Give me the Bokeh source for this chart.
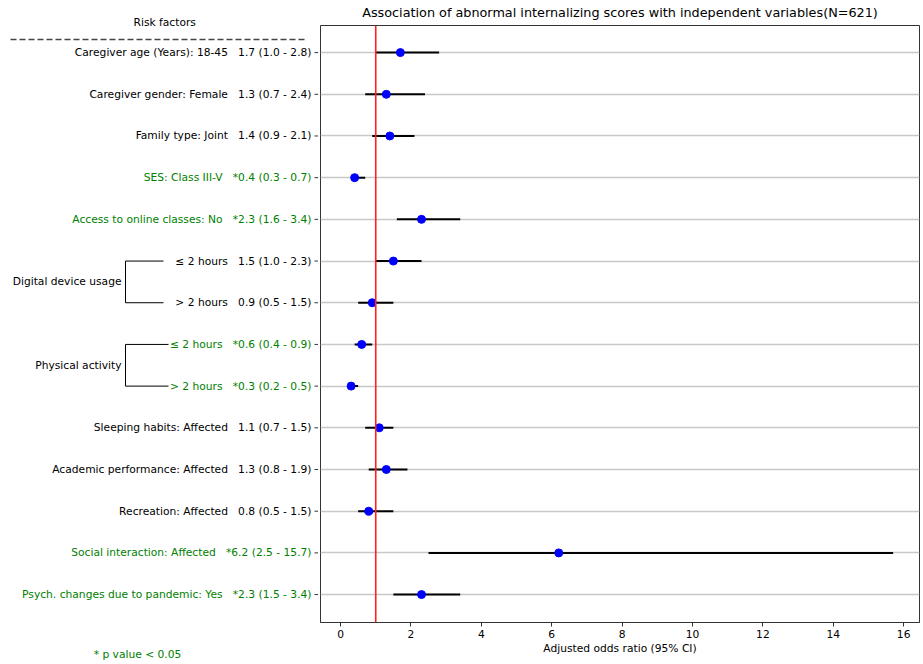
from bokeh.plotting import figure
from bokeh.layouts import row
from bokeh.models import ColumnDataSource, Span, FixedTicker, Range1d, LinearAxis
from bokeh.core.properties import value
from bokeh.embed import file_html
from bokeh.resources import INLINE

# ---- data ----
labels = ["Caregiver age (Years): 18-45", "Caregiver gender: Female", "Family type: Joint",
          "SES: Class III-V", "Access to online classes: No",
          "\u2264 2 hours", "> 2 hours", "\u2264 2 hours", "> 2 hours",
          "Sleeping habits: Affected", "Academic performance: Affected", "Recreation: Affected",
          "Social interaction: Affected", "Psych. changes due to pandemic: Yes"]
odds = [1.7, 1.3, 1.4, 0.4, 2.3, 1.5, 0.9, 0.6, 0.3, 1.1, 1.3, 0.8, 6.2, 2.3]
ci_low = [1.0, 0.7, 0.9, 0.3, 1.6, 1.0, 0.5, 0.4, 0.2, 0.7, 0.8, 0.5, 2.5, 1.5]
ci_high = [2.8, 2.4, 2.1, 0.7, 3.4, 2.3, 1.5, 0.9, 0.5, 1.5, 1.9, 1.5, 15.7, 3.4]
significant = [False, False, False, True, True, False, False, True, True,
               False, False, False, True, True]
groups = [("Digital device usage", 5, 6), ("Physical activity", 7, 8)]
x_ticks = [0, 2, 4, 6, 8, 10, 12, 14, 16]
ref_odds = 1.0
footnote = "* p value < 0.05"

FONT = "DejaVu Sans"
FS = "10.7px"
GREEN = "#008000"
n = len(labels)
ys = [n - 1 - i for i in range(n)]
texts, colors = [], []
for lab, o, lo, hi, s in zip(labels, odds, ci_low, ci_high, significant):
    star = "*" if s else ""
    texts.append(f"{lab}\u00a0\u00a0\u00a0{star}{o:.1f} ({lo:.1f} - {hi:.1f})")
    colors.append(GREEN if s else "black")

src = ColumnDataSource(dict(y=ys, odds=odds, lo=ci_low, hi=ci_high, text=texts, color=colors))

# ---- layout constants (pixels) ----
H = 664
TOP, BOTTOM = 25, 42
LEFT_W = 318
MAIN_W = 605
x0, x1 = -0.57, 16.45
y0, y1 = -0.67, n - 1 + 0.65
ppu = (H - TOP - BOTTOM) / (y1 - y0)          # pixels per row unit
yr = Range1d(y0, y1)

# ---- main chart ----
p = figure(width=MAIN_W, height=H, output_backend="svg", toolbar_location=None,
           x_range=Range1d(x0, x1), y_range=yr,
           min_border_left=2, min_border_right=4, min_border_top=TOP, min_border_bottom=BOTTOM)
p.yaxis.visible = False
p.title.text = "Association of abnormal internalizing scores with independent variables(N=621)"
p.title.text_font = FONT
p.title.text_font_size = "12.8px"
p.title.text_font_style = "normal"
p.title.text_color = "black"
p.title.align = "center"
p.title.vertical_align = "top"
p.title.standoff = 8

p.outline_line_color = "#333333"
p.outline_line_width = 1
p.xgrid.visible = False
p.ygrid.ticker = FixedTicker(ticks=ys)
p.ygrid.grid_line_color = "#c8c8c8"
p.ygrid.grid_line_width = 1.5

ax = p.xaxis[0]
ax.ticker = FixedTicker(ticks=x_ticks)
ax.axis_label = "Adjusted odds ratio (95% CI)"
ax.axis_line_color = "#333333"
ax.major_tick_line_color = "#333333"
ax.major_tick_in = 0
ax.major_tick_out = 4
ax.minor_tick_line_color = None
ax.major_label_text_font = FONT
ax.major_label_text_font_size = FS
ax.major_label_text_color = "black"
ax.axis_label_text_font = FONT
ax.axis_label_text_font_size = FS
ax.axis_label_text_font_style = "normal"
ax.axis_label_text_color = "black"
ax.major_label_standoff = 3
ax.axis_label_standoff = 1

p.add_layout(Span(location=ref_odds, dimension="height", line_color="#ff2020", line_width=1.6))
p.segment(x0="lo", x1="hi", y0="y", y1="y", source=src, line_color="black", line_width=2)
p.scatter(x="odds", y="y", source=src, size=8, fill_color="blue", line_color="blue")

# ---- left label panel (frame aligned with the main chart's frame) ----
L = figure(width=LEFT_W, height=H, output_backend="svg", toolbar_location=None,
           x_range=Range1d(0, LEFT_W), y_range=yr,
           x_axis_type=None, y_axis_type=None,
           min_border_left=0, min_border_right=0, min_border_top=TOP, min_border_bottom=BOTTOM)
L.outline_line_color = None
L.grid.visible = False
L.title.text = "Risk factors"
L.title.text_font = FONT
L.title.text_font_size = FS
L.title.text_font_style = "normal"
L.title.text_color = "black"
L.title.align = "left"
L.title.offset = 133
L.title.standoff = -6

foot_x = 137
L.add_layout(LinearAxis(ticker=FixedTicker(ticks=[foot_x]),
                        major_label_overrides={foot_x: footnote},
                        major_tick_in=0, major_tick_out=0, minor_tick_line_color=None,
                        axis_line_color=None, major_label_standoff=25,
                        major_label_text_color=GREEN, major_label_text_font=FONT,
                        major_label_text_font_size=FS), "below")

# y ticks (outward from frame)
L.segment(x0=LEFT_W - 4, x1=LEFT_W, y0="y", y1="y", source=src, line_color="#333333", line_width=1)
L.text(x=LEFT_W - 7, y="y", text="text", text_color="color", source=src,
       text_align="right", text_baseline="middle",
       text_font=value(FONT), text_font_size=value(FS))

for name, a, b in groups:
    ya, yb = ys[a], ys[b]
    ext = 168 if significant[a] else 163
    L.segment(x0=[125, 125, 125], x1=[ext, ext, 125], y0=[ya, yb, ya], y1=[ya, yb, yb],
              line_color="black", line_width=1)
    L.text(x=[121], y=[(ya + yb) / 2], text=[name], text_align="right", text_baseline="middle",
           text_font=value(FONT), text_font_size=value(FS), text_color="black")

dash_y = y1 - (39 - TOP) / ppu
L.line(x=[10, 305], y=[dash_y, dash_y], line_color="#444444", line_width=1.5, line_dash="6 3")

layout = row(L, p)
open("out.html", "w").write(file_html(layout, INLINE))
